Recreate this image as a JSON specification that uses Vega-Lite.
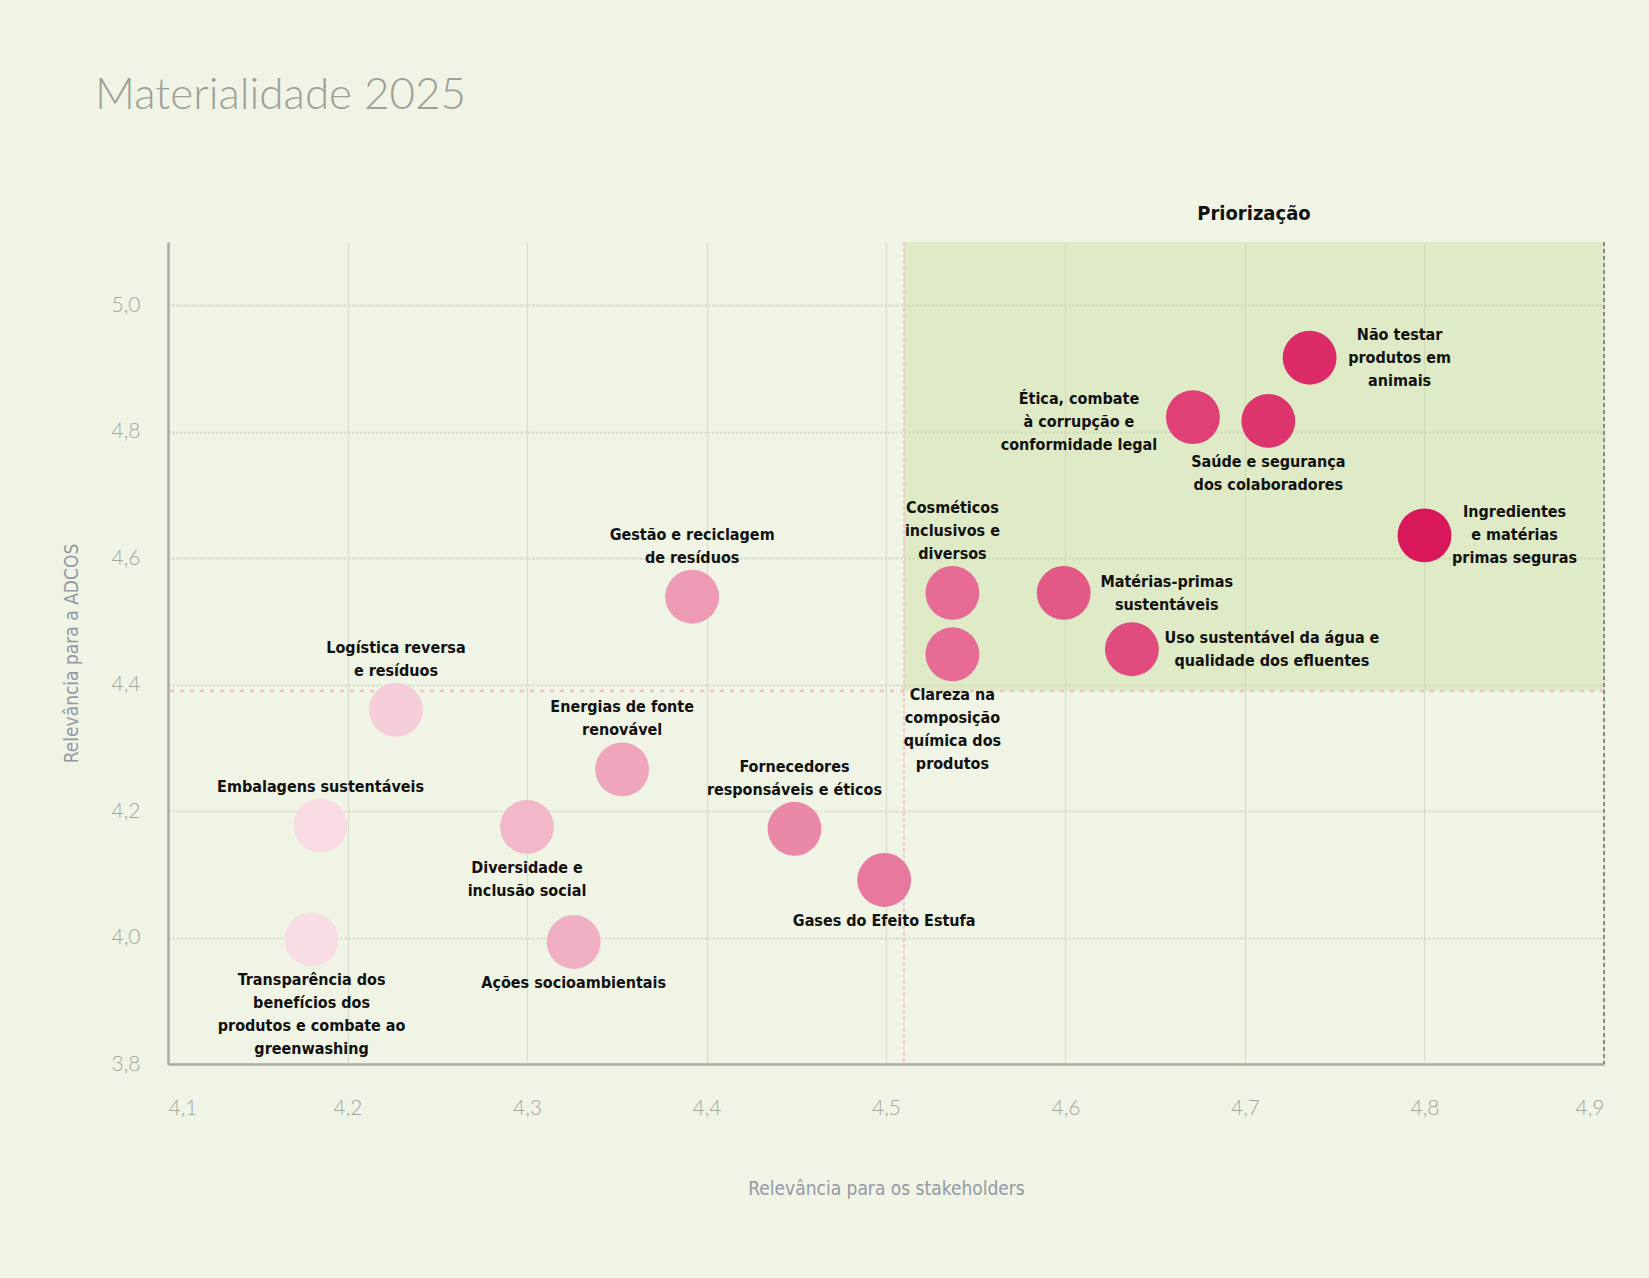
{
  "$schema": "https://vega.github.io/schema/vega-lite/v6.json",
  "description": "Matriz de materialidade 2025",
  "width": 1436,
  "height": 822,
  "autosize": {"type": "none"},
  "padding": {"left": 168, "top": 242, "right": 45, "bottom": 214},
  "background": "#f0f4e4",
  "title": {
    "text": "Materialidade 2025",
    "anchor": "start",
    "frame": "group",
    "dx": -73,
    "offset": 86,
    "font": "Lato",
    "fontWeight": 300,
    "fontSize": 44,
    "color": "#9da197"
  },
  "datasets": {
    "temas": [
      {"tema": "Não testar\nprodutos em\nanimais", "stakeholders": 4.736, "adcos": 4.917},
      {"tema": "Ética, combate\nà corrupção e\nconformidade legal", "stakeholders": 4.671, "adcos": 4.823},
      {"tema": "Saúde e segurança\ndos colaboradores", "stakeholders": 4.713, "adcos": 4.817},
      {"tema": "Ingredientes\ne matérias\nprimas seguras", "stakeholders": 4.8, "adcos": 4.636},
      {"tema": "Cosméticos\ninclusivos e\ndiversos", "stakeholders": 4.537, "adcos": 4.545},
      {"tema": "Matérias-primas\nsustentáveis", "stakeholders": 4.599, "adcos": 4.545},
      {"tema": "Uso sustentável da água e\nqualidade dos efluentes", "stakeholders": 4.637, "adcos": 4.456},
      {"tema": "Clareza na\ncomposição\nquímica dos\nprodutos", "stakeholders": 4.537, "adcos": 4.448},
      {"tema": "Gestão e reciclagem\nde resíduos", "stakeholders": 4.392, "adcos": 4.539},
      {"tema": "Logística reversa\ne resíduos", "stakeholders": 4.227, "adcos": 4.36},
      {"tema": "Energias de fonte\nrenovável", "stakeholders": 4.353, "adcos": 4.266},
      {"tema": "Embalagens sustentáveis", "stakeholders": 4.185, "adcos": 4.177},
      {"tema": "Diversidade e\ninclusão social", "stakeholders": 4.3, "adcos": 4.175},
      {"tema": "Fornecedores\nresponsáveis e éticos", "stakeholders": 4.449, "adcos": 4.172},
      {"tema": "Gases do Efeito Estufa", "stakeholders": 4.499, "adcos": 4.091},
      {"tema": "Transparência dos\nbenefícios dos\nprodutos e combate ao\ngreenwashing", "stakeholders": 4.18, "adcos": 3.997},
      {"tema": "Ações socioambientais", "stakeholders": 4.326, "adcos": 3.993}
    ],
    "regiao": [
      {"rotulo": "Priorização", "x1": 4.51, "x2": 4.9, "xc": 4.705, "y1": 4.39, "y2": 5.1}
    ]
  },
  "encoding": {
    "x": {
      "field": "stakeholders",
      "type": "quantitative",
      "scale": {"domain": [4.1, 4.9], "nice": false, "zero": false},
      "axis": {
        "title": "Relevância para os stakeholders",
        "values": [4.1, 4.2, 4.3, 4.4, 4.5, 4.6, 4.7, 4.8, 4.9],
        "labelExpr": "replace(format(datum.value, '.1f'), '.', ',')",
        "labelPadding": 44,
        "titlePadding": 61,
        "gridColor": "#d8dccb",
        "gridWidth": 1.2
      }
    },
    "y": {
      "field": "adcos",
      "type": "quantitative",
      "scale": {"domain": [3.8, 5.1], "nice": false, "zero": false},
      "axis": {
        "title": "Relevância para a ADCOS",
        "values": [3.8, 4.0, 4.2, 4.4, 4.6, 4.8, 5.0],
        "labelExpr": "replace(format(datum.value, '.1f'), '.', ',')",
        "labelPadding": 28,
        "titlePadding": 30,
        "gridColor": "#d2d7c4",
        "gridWidth": 2,
        "gridDash": [2, 2]
      }
    }
  },
  "layer": [
    {
      "data": {"name": "regiao"},
      "mark": {"type": "rect", "fill": "#c9dc9e", "opacity": 0.42},
      "encoding": {
        "x": {"field": "x1", "type": "quantitative"},
        "x2": {"field": "x2"},
        "y": {"field": "y1", "type": "quantitative"},
        "y2": {"field": "y2"}
      }
    },
    {
      "data": {"name": "regiao"},
      "mark": {"type": "rule", "color": "#f2b9bf", "strokeWidth": 1.5, "strokeDash": [4, 2]},
      "encoding": {
        "x": {"field": "x1", "type": "quantitative"},
        "y": null
      }
    },
    {
      "data": {"name": "regiao"},
      "mark": {"type": "rule", "color": "#f0c0c2", "strokeWidth": 2.5, "strokeDash": [4, 6]},
      "encoding": {
        "y": {"field": "y1", "type": "quantitative"},
        "x": null
      }
    },
    {
      "data": {"name": "regiao"},
      "mark": {"type": "rule", "color": "#6f7369", "strokeWidth": 1.5, "strokeDash": [4, 3]},
      "encoding": {
        "x": {"field": "x2", "type": "quantitative"},
        "y": null
      }
    },
    {
      "data": {"name": "regiao"},
      "mark": {
        "type": "text",
        "dy": -28,
        "baseline": "middle",
        "align": "center",
        "fontSize": 20
      },
      "encoding": {
        "x": {"field": "xc", "type": "quantitative"},
        "y": {"field": "y2", "type": "quantitative"},
        "text": {"field": "rotulo"}
      }
    },
    {
      "data": {"name": "temas"},
      "mark": {"type": "circle", "size": 2900, "opacity": 1},
      "encoding": {
        "color": {
          "field": "stakeholders",
          "type": "quantitative",
          "scale": {"domain": [4.18, 4.8], "range": ["#f8dde4", "#d8185a"], "interpolate": "rgb"},
          "legend": null
        }
      }
    },
    {
      "data": {"name": "temas"},
      "transform": [
        {"filter": {"field": "tema", "equal": "Embalagens sustentáveis"}}
      ],
      "mark": {"type": "text", "baseline": "bottom", "align": "center", "dy": -31},
      "encoding": {"text": {"field": "tema"}}
    },
    {
      "data": {"name": "temas"},
      "transform": [
        {"filter": {"field": "tema", "oneOf": [
          "Gestão e reciclagem\nde resíduos",
          "Logística reversa\ne resíduos",
          "Energias de fonte\nrenovável",
          "Fornecedores\nresponsáveis e éticos"
        ]}}
      ],
      "mark": {"type": "text", "baseline": "bottom", "align": "center", "dy": -54},
      "encoding": {"text": {"field": "tema"}}
    },
    {
      "data": {"name": "temas"},
      "transform": [
        {"filter": {"field": "tema", "equal": "Cosméticos\ninclusivos e\ndiversos"}}
      ],
      "mark": {"type": "text", "baseline": "bottom", "align": "center", "dy": -77},
      "encoding": {"text": {"field": "tema"}}
    },
    {
      "data": {"name": "temas"},
      "transform": [
        {"filter": {"field": "tema", "oneOf": [
          "Saúde e segurança\ndos colaboradores",
          "Clareza na\ncomposição\nquímica dos\nprodutos",
          "Diversidade e\ninclusão social",
          "Gases do Efeito Estufa",
          "Transparência dos\nbenefícios dos\nprodutos e combate ao\ngreenwashing",
          "Ações socioambientais"
        ]}}
      ],
      "mark": {"type": "text", "baseline": "top", "align": "center", "dy": 33},
      "encoding": {"text": {"field": "tema"}}
    },
    {
      "data": {"name": "temas"},
      "transform": [
        {"filter": {"field": "tema", "oneOf": [
          "Não testar\nprodutos em\nanimais",
          "Ingredientes\ne matérias\nprimas seguras"
        ]}}
      ],
      "mark": {"type": "text", "baseline": "middle", "align": "center", "dx": 90, "dy": -23},
      "encoding": {"text": {"field": "tema"}}
    },
    {
      "data": {"name": "temas"},
      "transform": [
        {"filter": {"field": "tema", "equal": "Matérias-primas\nsustentáveis"}}
      ],
      "mark": {"type": "text", "baseline": "middle", "align": "center", "dx": 103, "dy": -11},
      "encoding": {"text": {"field": "tema"}}
    },
    {
      "data": {"name": "temas"},
      "transform": [
        {"filter": {"field": "tema", "equal": "Uso sustentável da água e\nqualidade dos efluentes"}}
      ],
      "mark": {"type": "text", "baseline": "middle", "align": "center", "dx": 140, "dy": -11},
      "encoding": {"text": {"field": "tema"}}
    },
    {
      "data": {"name": "temas"},
      "transform": [
        {"filter": {"field": "tema", "equal": "Ética, combate\nà corrupção e\nconformidade legal"}}
      ],
      "mark": {"type": "text", "baseline": "middle", "align": "center", "dx": -114, "dy": -18},
      "encoding": {"text": {"field": "tema"}}
    }
  ],
  "config": {
    "view": {"stroke": null},
    "text": {
      "font": "DejaVu Sans Condensed, Roboto, sans-serif",
      "fontWeight": "bold",
      "fontSize": 16,
      "lineHeight": 23,
      "lineBreak": "\n",
      "color": "#111111"
    },
    "axis": {
      "ticks": false,
      "domainColor": "#a9ada1",
      "domainWidth": 2.5,
      "labelFont": "Lato",
      "labelFontWeight": 300,
      "labelFontSize": 21,
      "labelColor": "#a2a69b",
      "titleFont": "DejaVu Sans Condensed, Roboto, sans-serif",
      "titleFontWeight": "normal",
      "titleFontSize": 19,
      "titleColor": "#9399a6"
    },
    "axisX": {"labelBaseline": "middle"},
    "axisY": {"labelBaseline": "middle"}
  }
}
